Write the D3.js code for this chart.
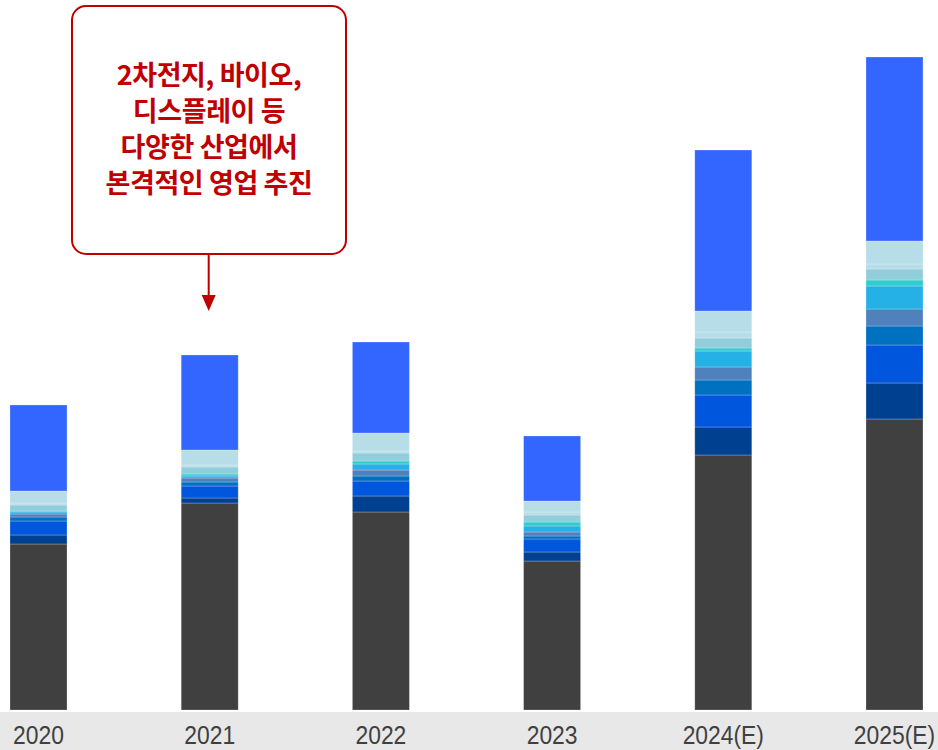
<!DOCTYPE html>
<html>
<head>
<meta charset="utf-8">
<script src="https://cdn.jsdelivr.net/npm/d3@7"></script>
<style>
  html, body { margin: 0; padding: 0; background: #ffffff; }
  svg { display: block; }
</style>
</head>
<body>
<svg id="chart" width="938" height="750"></svg>
<script>
// ---- data (arbitrary units) ----
const categories = ["2020", "2021", "2022", "2023", "2024(E)", "2025(E)"];
const seriesNames = ["s1", "s2", "s3", "s4", "s5", "s6", "s7", "s8", "s9", "s10", "s11"];
const seriesColors = ["#404040", "#004090", "#0057DD", "#0070C0", "#4F81BD", "#25B0E6",
                      "#33CCCC", "#92CDDC", "#B7DDE8", "#B7DDE8", "#3366FF"];
const s1  = [166, 207, 198, 149, 255, 291];
const s2  = [9,   5,   16,  9,   28,  36];
const s3  = [14,  12,  15,  13,  32,  38];
const s4  = [4,   4,   5,   3,   15,  19];
const s5  = [3,   4,   6,   4,   13,  17];
const s6  = [2,   2,   6,   6,   16,  23];
const s7  = [1,   2,   3,   4,   3,   6];
const s8  = [6,   7,   8,   7,   10,  11];
const s9  = [2,   2,   2,   3,   6,   5];
const s10 = [12,  15,  18,  11,  21,  23];
const s11 = [86,  95,  91,  65,  161, 184];
const seriesValues = [s1, s2, s3, s4, s5, s6, s7, s8, s9, s10, s11];

const noteLines = ["2차전지, 바이오,", "디스플레이 등", "다양한 산업에서", "본격적인 영업 추진"];

// ---- build table ----
const table = categories.map((c, i) => {
  const row = { cat: c };
  seriesNames.forEach((s, j) => { row[s] = seriesValues[j][i]; });
  return row;
});

const svg = d3.select("#chart");
const W = 938, H = 750;
const baseY = 710;

const x = d3.scaleBand().domain(categories).range([10, 923]).paddingInner(0.667).paddingOuter(0);
const y = d3.scaleLinear().domain([0, 700]).range([baseY, baseY - 700]);

const stack = d3.stack().keys(seriesNames);
const layers = stack(table);

// axis band
svg.append("rect").attr("x", 0).attr("y", 712).attr("width", W).attr("height", H - 712)
  .attr("fill", "#E8E8E8");

// bars
svg.append("g").selectAll("g").data(layers).join("g")
  .attr("fill", (d, i) => seriesColors[i])
  .selectAll("rect").data(d => d).join("rect")
  .attr("x", d => x(d.data.cat))
  .attr("width", x.bandwidth())
  .attr("y", d => y(d[1]))
  .attr("height", d => y(d[0]) - y(d[1]))
  .attr("stroke", "#ffffff")
  .attr("stroke-opacity", 0.3)
  .attr("stroke-width", 0.8);

// x axis labels
const xAxis = d3.axisBottom(x).tickSize(0).tickPadding(0);
const ax = svg.append("g").attr("transform", `translate(0, 726)`).call(xAxis);
ax.select(".domain").remove();
ax.selectAll("text")
  .attr("dy", "0.71em")
  .attr("fill", "#404040")
  .attr("transform", "scale(0.88,1)")
  .style("font-family", "'Liberation Sans', Arial, sans-serif")
  .style("font-size", "26px");

// annotation box
const note = svg.append("g");
note.append("rect").attr("x", 72).attr("y", 6).attr("width", 274).attr("height", 248)
  .attr("rx", 14).attr("ry", 14)
  .attr("fill", "#ffffff").attr("stroke", "#C00000").attr("stroke-width", 2);
noteLines.forEach((t, i) => {
  note.append("text")
    .attr("x", 209).attr("y", 85 + i * 36)
    .attr("text-anchor", "middle")
    .attr("fill", "#C00000")
    .style("font-family", "'Noto Sans CJK KR', 'Noto Sans', sans-serif")
    .style("font-weight", "bold")
    .style("font-size", "27px")
    .style("letter-spacing", "-0.4px")
    .text(t);
});
// arrow
const ax0 = x("2021") + x.bandwidth() / 2 - 1;
note.append("line").attr("x1", ax0).attr("x2", ax0).attr("y1", 254).attr("y2", 296)
  .attr("stroke", "#C00000").attr("stroke-width", 2);
note.append("path")
  .attr("d", `M${ax0 - 7},295 L${ax0 + 7},295 L${ax0},311 Z`)
  .attr("fill", "#C00000");
</script>
</body>
</html>
